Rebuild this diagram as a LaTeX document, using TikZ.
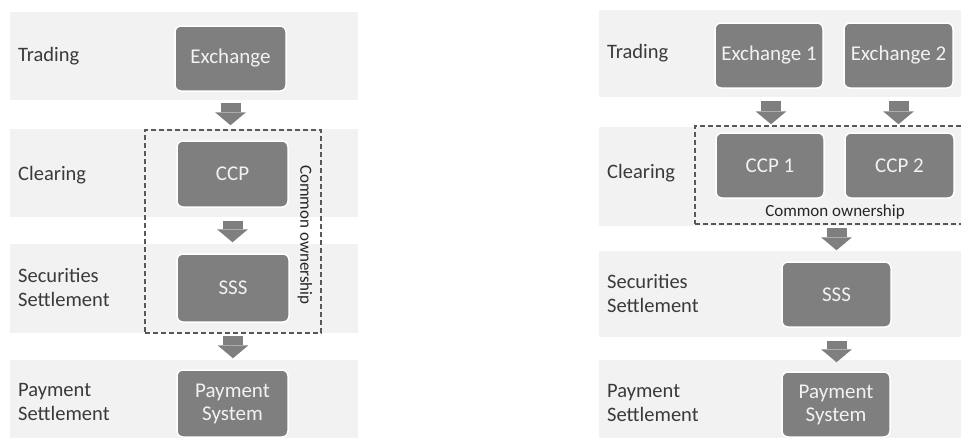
\documentclass[tikz,border=0pt]{standalone}
\usepackage{fontspec}
\setmainfont{Carlito}
\usetikzlibrary{arrows.meta}
\definecolor{band}{HTML}{F2F2F2}
\definecolor{boxfill}{HTML}{7F7F7F}
\definecolor{labeltxt}{HTML}{3A3A3A}
\definecolor{dashc}{HTML}{595959}
\definecolor{owntxt}{HTML}{262626}
\begin{document}
\begin{tikzpicture}[x=1pt,y=-1pt,
  bandrect/.style={fill=band, draw=none},
  proc/.style={rounded corners=6pt, fill=boxfill, draw=white, line width=1.5pt,
    text=band, font=\fontsize{21}{23}\selectfont, align=center, inner sep=0pt},
  lab/.style={anchor=west, align=left, inner sep=0pt, text=labeltxt,
    font=\fontsize{20.5}{24}\selectfont},
  ownbox/.style={draw=dashc, line width=1.5pt, dash pattern=on 5pt off 3pt, inner sep=0pt},
  ownlabel/.style={inner sep=0pt, text=owntxt, font=\fontsize{17}{20}\selectfont},
  blockarrow/.style={draw=boxfill, line width=20pt,
    -{Triangle[width=31pt,length=13pt,line width=0pt,fill=boxfill]}}
]
\useasboundingbox (0,0) rectangle (961,439);
% ---------- left bands ----------
\fill[bandrect] (10,12) rectangle (358,100);
\fill[bandrect] (10,129) rectangle (358,217);
\fill[bandrect] (10,244) rectangle (358,333);
\fill[bandrect] (10,360) rectangle (358,438);
% ---------- right bands ----------
\fill[bandrect] (599,10) rectangle (961,97);
\fill[bandrect] (599,127) rectangle (961,226);
\fill[bandrect] (599,251) rectangle (961,337);
\fill[bandrect] (599,360) rectangle (961,438);
% ---------- left labels ----------
\node[lab] (lt) at (18,56) {Trading};
\node[lab] (lc) at (18,175) {Clearing};
\node[lab] (ls) at (18,287) {Securities\\Settlement};
\node[lab] (lp) at (18,402) {Payment\\Settlement};
% ---------- right labels ----------
\node[lab] (rt) at (607,53) {Trading};
\node[lab] (rc) at (607,173) {Clearing};
\node[lab] (rs) at (607,293) {Securities\\Settlement};
\node[lab] (rp) at (607,403) {Payment\\Settlement};
% ---------- left boxes ----------
\node[proc, minimum width=111, minimum height=65] (ex) at (230.5,58.5) {Exchange};
\node[proc, minimum width=111, minimum height=66] (ccp) at (232.5,174) {CCP};
\node[proc, minimum width=112, minimum height=68] (sss) at (233,288) {SSS};
\node[proc, minimum width=111, minimum height=67] (pay) at (232.5,403.5) {Payment\\System};
\node[ownbox, minimum width=176, minimum height=203] (own) at (233,231.5) {};
\node[ownlabel, rotate=-90] (ownl) at (305,235) {Common ownership};
% ---------- right boxes ----------
\node[proc, minimum width=108, minimum height=65] (ex1) at (769,55.5) {Exchange 1};
\node[proc, minimum width=109, minimum height=65] (ex2) at (898.5,55.5) {Exchange 2};
\node[proc, minimum width=108, minimum height=65] (ccp1) at (770,165.5) {CCP 1};
\node[proc, minimum width=109, minimum height=65] (ccp2) at (899.5,165.5) {CCP 2};
\node[proc, minimum width=109, minimum height=65] (rsss) at (836.5,294.5) {SSS};
\node[proc, minimum width=108, minimum height=65] (rpay) at (836,404.5) {Payment\\System};
\node[ownbox, minimum width=272, minimum height=98] (rown) at (831,175) {};
\node[ownlabel] (rownl) at (835,212) {Common ownership};
% ---------- left arrows ----------
\draw[blockarrow, shorten <=11pt, shorten >=15pt] (ex.south) -- (ex.south |- ccp.north);
\draw[blockarrow, shorten <=13pt, shorten >=11pt] (ccp.south) -- (ccp.south |- sss.north);
\draw[blockarrow, shorten <=13pt, shorten >=11pt] (sss.south) -- (sss.south |- pay.north);
% ---------- right arrows ----------
\draw[blockarrow, shorten <=12pt, shorten >=8pt] ([xshift=2pt]ex1.south) -- ([xshift=2pt]ex1.south |- ccp1.north);
\draw[blockarrow, shorten <=12pt, shorten >=8pt] (ex2.south) -- (ex2.south |- ccp2.north);
\draw[blockarrow, shorten <=3pt, shorten >=11pt] (rown.south -| rsss.north) -- (rsss.north);
\draw[blockarrow, shorten <=13pt, shorten >=9pt] (rsss.south) -- (rsss.south |- rpay.north);
\end{tikzpicture}
\end{document}
